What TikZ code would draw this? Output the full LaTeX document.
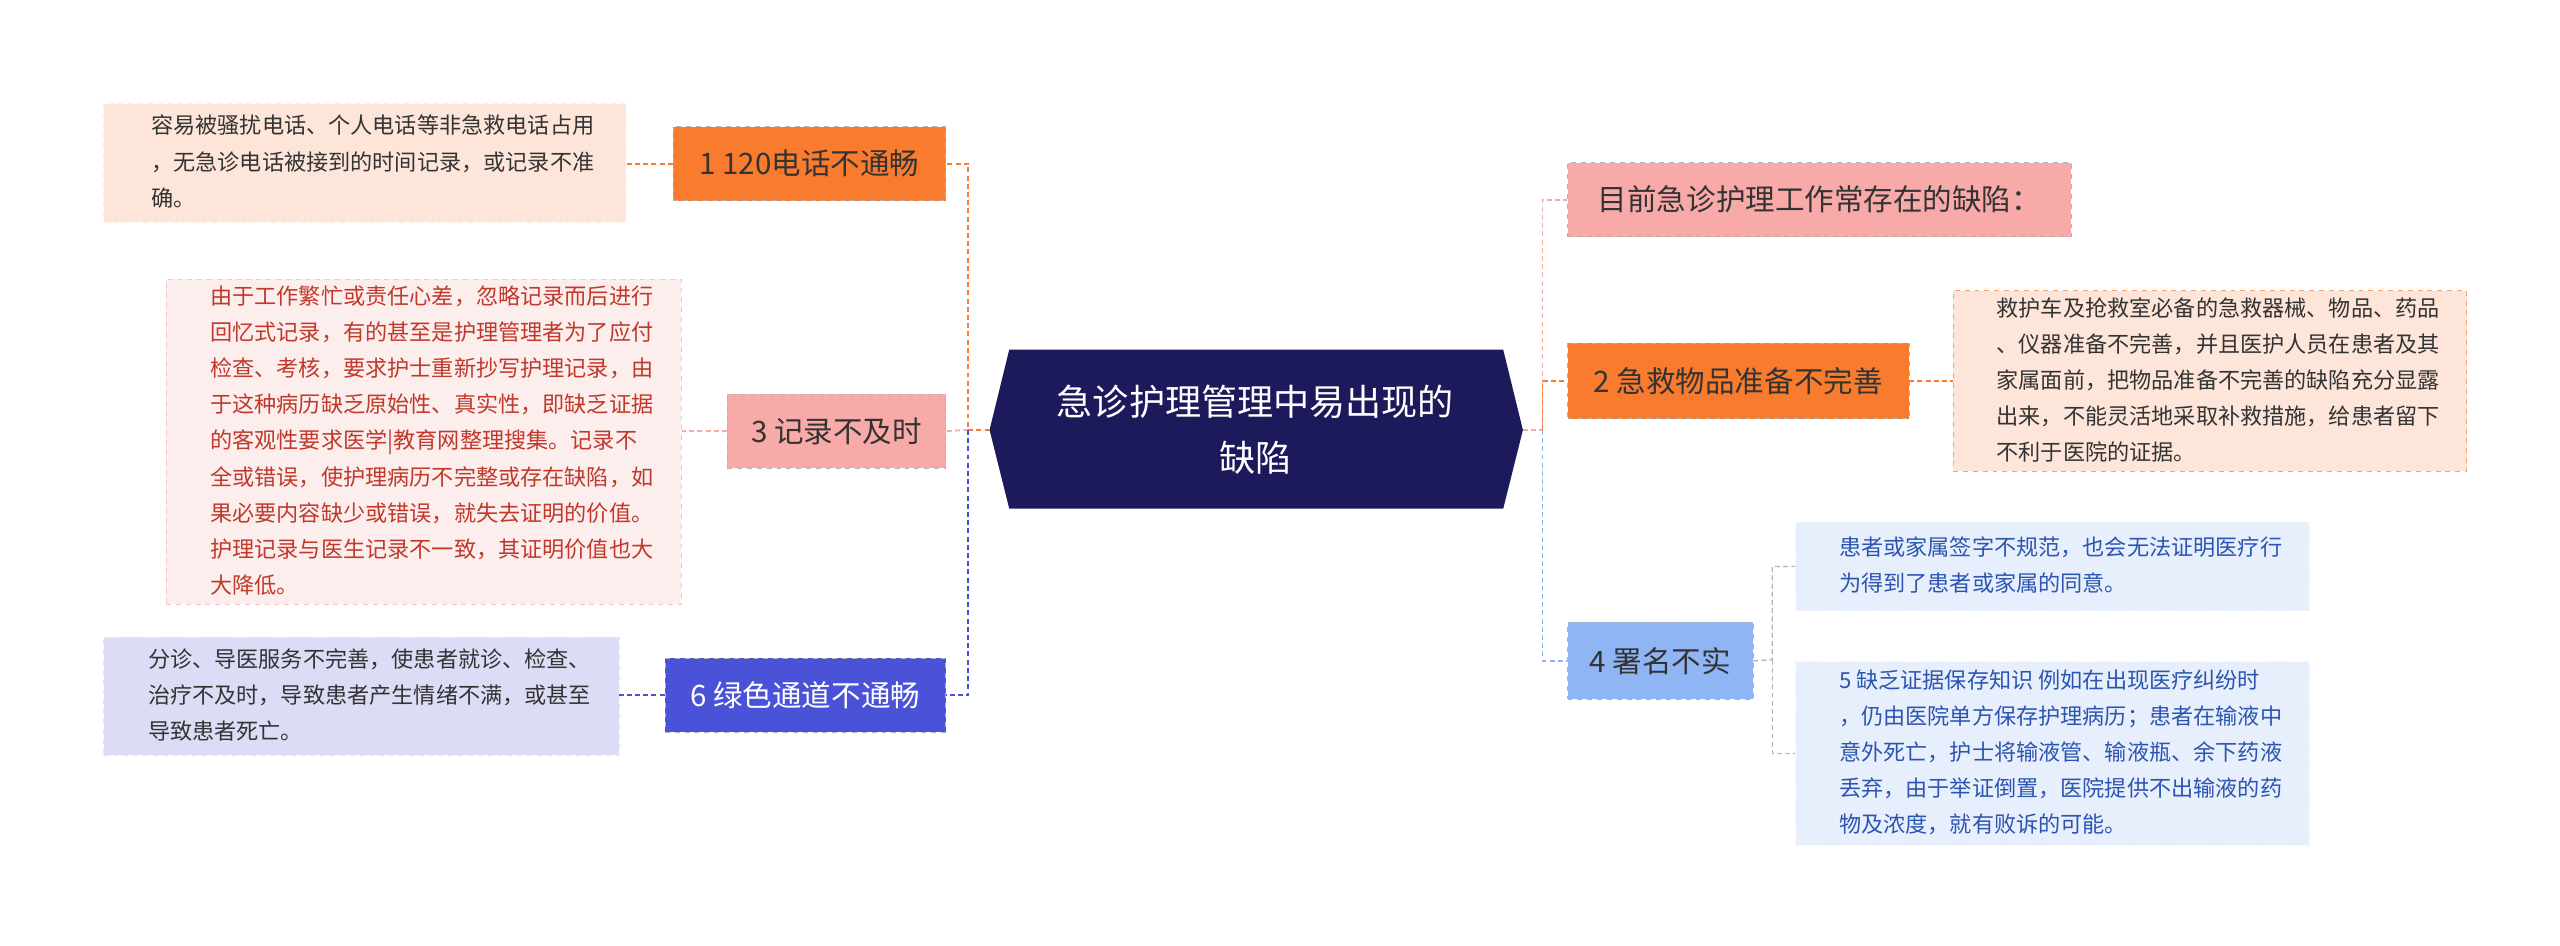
\documentclass[tikz,border=0pt]{standalone}
\usepackage{fontspec}
\setmainfont{Noto Sans CJK SC}
\begin{document}
\begin{tikzpicture}[x=1pt,y=-1pt,
 leaf/.style={draw=#1!70!white,dashed,inner sep=0pt,anchor=north west,align=left,font=\fontsize{13.5}{22}\selectfont},
 br/.style={draw=white!70!black,dashed,inner sep=0pt,anchor=north west,font=\fontsize{18}{22}\selectfont,align=center},
 ln/.style={densely dashed,line width=1.1pt}]
\definecolor{navy}{HTML}{1C1A5A}
\definecolor{org}{HTML}{F97C2E}
\definecolor{pk}{HTML}{F8AAA9}
\definecolor{bl}{HTML}{4A52D8}
\definecolor{lb}{HTML}{8FB5F5}
\definecolor{peach}{HTML}{FDE6D9}
\definecolor{lpink}{HTML}{FDEEEE}
\definecolor{lav}{HTML}{DCDCF6}
\definecolor{lblue}{HTML}{E8EFFC}
\definecolor{redt}{HTML}{C0392B}
\definecolor{bluet}{HTML}{2B55B0}
\definecolor{gt}{HTML}{333333}
\useasboundingbox (0,0) rectangle (1560,576);
% center
\fill[navy] (603,262)--(615,213)--(916,213)--(928,262)--(916,310)--(615,310)--cycle;
\node[text=white,align=center,font=\fontsize{22}{34}\selectfont] (c) at (765,262) {急诊护理管理中易出现的\\缺陷};
\coordinate (cw) at (603,262); \coordinate (ce) at (928,262);
% left branches
\node[br,fill=org,minimum width=166,minimum height=45,text=gt] (b1) at (410,77) {1 120电话不通畅};
\node[br,fill=pk,minimum width=133,minimum height=45,text=gt] (b3) at (443,240) {3 记录不及时};
\node[br,fill=bl,minimum width=171,minimum height=45,text=white] (b6) at (405,401) {6 绿色通道不通畅};
\coordinate (lt) at (590,262);
\draw[ln,org] (cw)--(lt) |- (b1.east);
\draw[ln,pk] (lt) -- (b3.east);
\draw[ln,bl] (lt) |- (b6.east);
% left leaves
\node[leaf=peach,fill=peach,minimum width=318,minimum height=72,text=gt] (l1) at (63,63) {\hspace{10pt}\begin{tabular}{@{}l@{}}容易被骚扰电话、个人电话等非急救电话占用\\，无急诊电话被接到的时间记录，或记录不准\\确。\end{tabular}};
\node[leaf=pk,fill=lpink,minimum width=314,minimum height=185,text=redt] (l3) at (101,170) {\hspace{10pt}\begin{tabular}{@{}l@{}}由于工作繁忙或责任心差，忽略记录而后进行\\回忆式记录，有的甚至是护理管理者为了应付\\检查、考核，要求护士重新抄写护理记录，由\\于这种病历缺乏原始性、真实性，即缺乏证据\\的客观性要求医学|教育网整理搜集。记录不\\全或错误，使护理病历不完整或存在缺陷，如\\果必要内容缺少或错误，就失去证明的价值。\\护理记录与医生记录不一致，其证明价值也大\\大降低。\end{tabular}};
\node[leaf=lav,fill=lav,minimum width=314,minimum height=72,text=gt] (l6) at (63,388) {\hspace{10pt}\begin{tabular}{@{}l@{}}分诊、导医服务不完善，使患者就诊、检查、\\治疗不及时，导致患者产生情绪不满，或甚至\\导致患者死亡。\end{tabular}};
\draw[ln,org] (b1.west) -- (l1.east|-b1.west);
\draw[ln,pk] (b3.west) -- (l3.east|-b3.west);
\draw[ln,bl] (b6.west) -- (l6.east|-b6.west);
% right branches
\node[br,fill=pk,minimum width=307,minimum height=45,text=gt] (r0) at (955,99) {目前急诊护理工作常存在的缺陷：};
\node[br,fill=org,minimum width=208,minimum height=46,text=gt] (b2) at (955,209) {2 急救物品准备不完善};
\node[br,fill=lb,minimum width=113,minimum height=47,text=gt] (b4) at (955,379) {4 署名不实};
\coordinate (rt) at (940,262);
\draw[ln,pk] (ce)--(rt) |- (r0.west);
\draw[ln,org] (rt) |- (b2.west);
\draw[ln,lb] (rt) |- (b4.west);
% right leaves
\node[leaf=org,fill=peach,minimum width=313,minimum height=110,text=gt] (l2) at (1190,177) {\hspace{10pt}\begin{tabular}{@{}l@{}}救护车及抢救室必备的急救器械、物品、药品\\、仪器准备不完善，并且医护人员在患者及其\\家属面前，把物品准备不完善的缺陷充分显露\\出来，不能灵活地采取补救措施，给患者留下\\不利于医院的证据。\end{tabular}};
\draw[ln,org] (b2.east) -- (l2.west|-b2.east);
\node[leaf=lblue,fill=lblue,minimum width=313,minimum height=54,text=bluet] (l4a) at (1094,318) {\hspace{10pt}\begin{tabular}{@{}l@{}}患者或家属签字不规范，也会无法证明医疗行\\为得到了患者或家属的同意。\end{tabular}};
\node[leaf=lblue,fill=lblue,minimum width=313,minimum height=112,text=bluet] (l4b) at (1094,403) {\hspace{10pt}\begin{tabular}{@{}l@{}}5 缺乏证据保存知识 例如在出现医疗纠纷时\\，仍由医院单方保存护理病历；患者在输液中\\意外死亡，护士将输液管、输液瓶、余下药液\\丢弃，由于举证倒置，医院提供不出输液的药\\物及浓度，就有败诉的可能。\end{tabular}};
\coordinate (rt4) at (1080,402);
\draw[ln,gray!60,line width=0.8pt] (b4.east) -- (rt4) |- (l4a.west);
\draw[ln,gray!60,line width=0.8pt] (rt4) |- (l4b.west);
\end{tikzpicture}
\end{document}
